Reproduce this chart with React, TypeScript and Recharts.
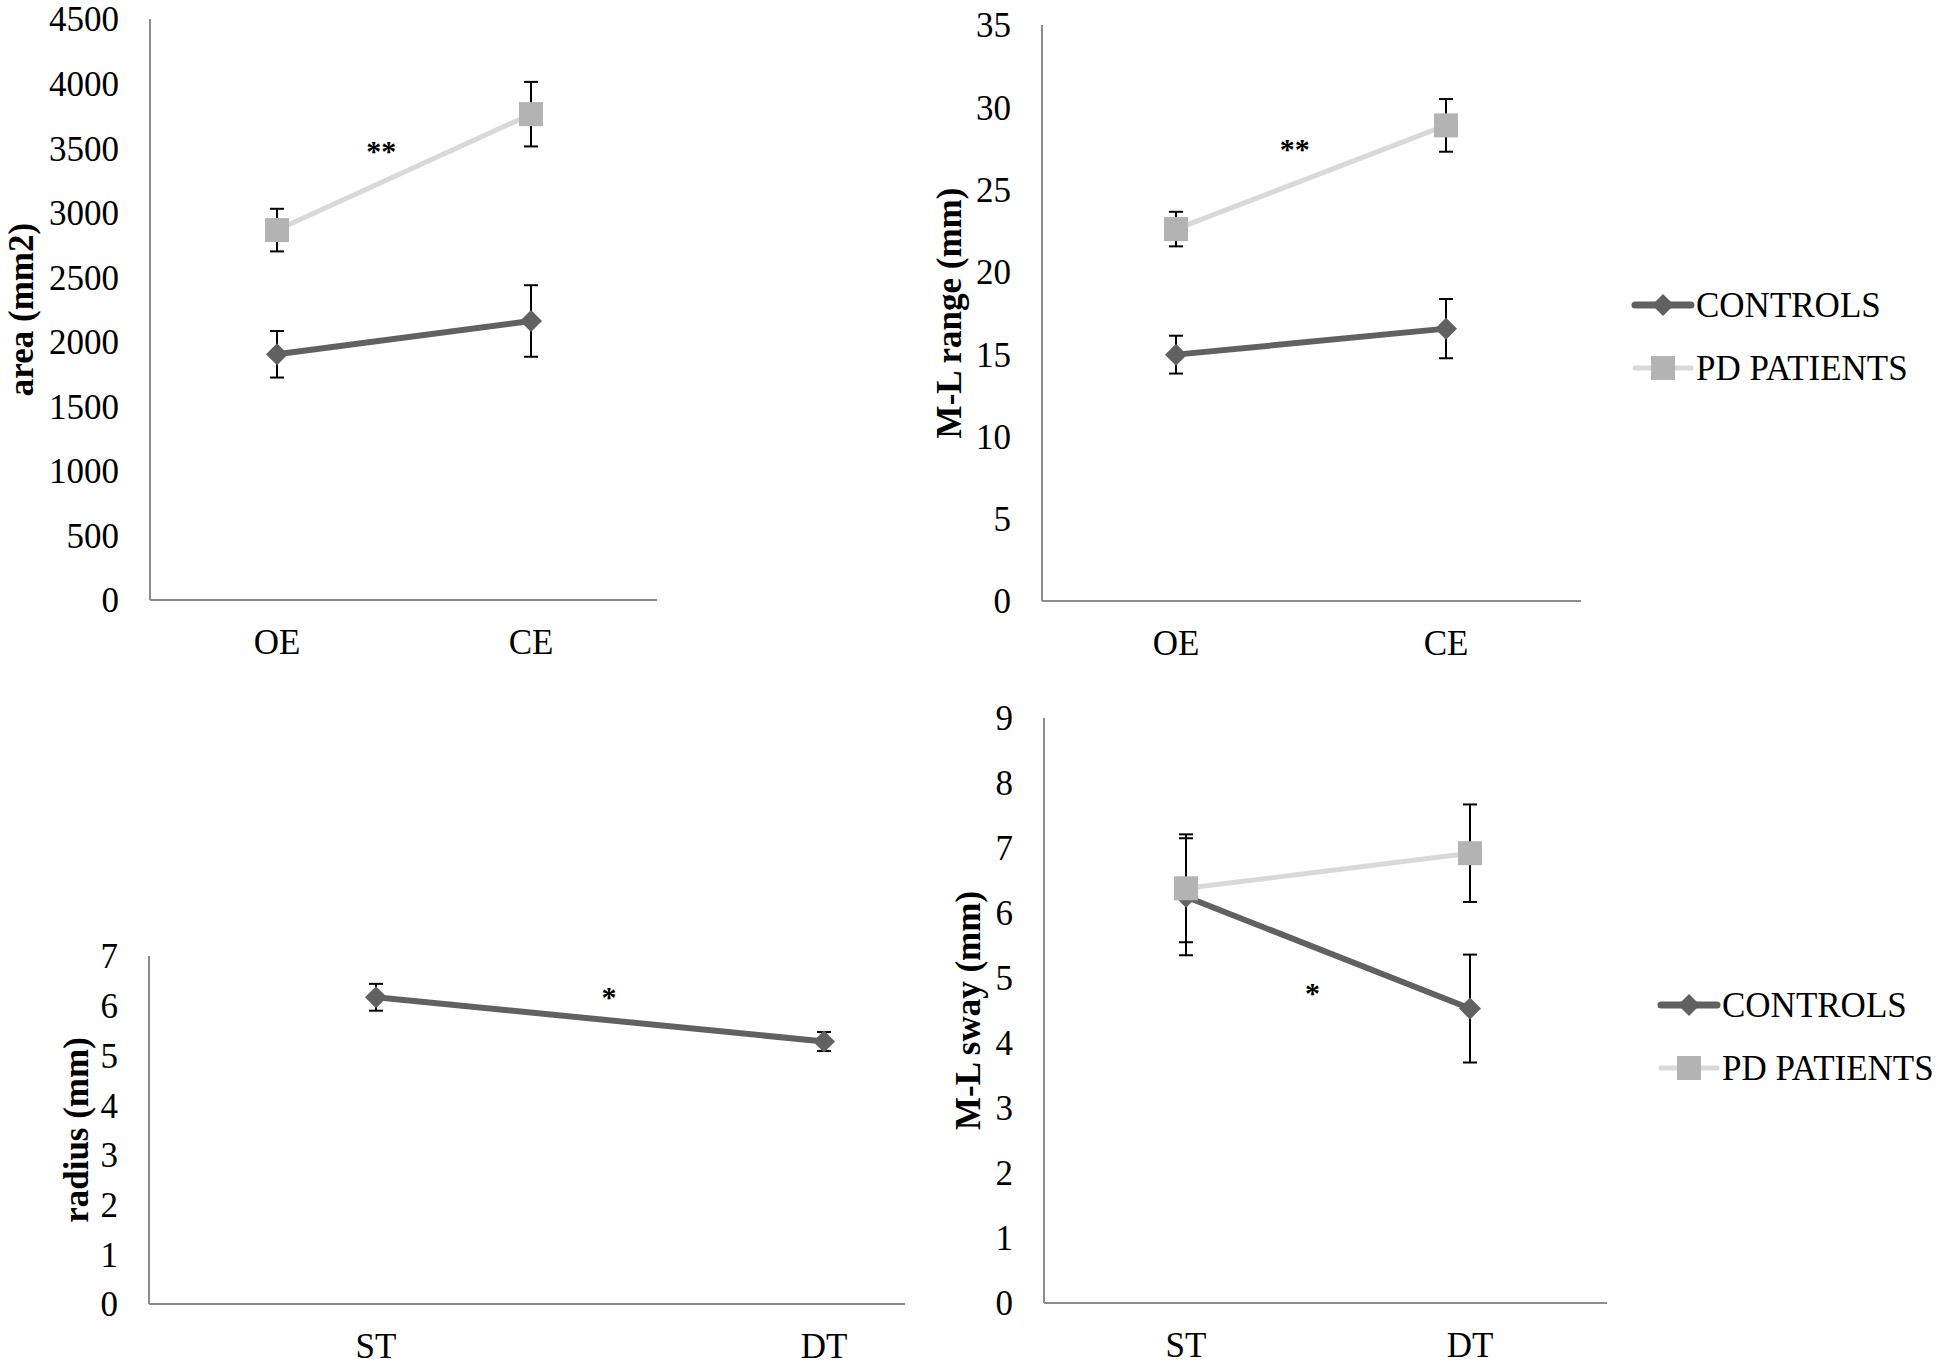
import { LineChart, Line, XAxis, YAxis, ErrorBar, ReferenceDot } from "recharts"

const FONT = '"Liberation Serif", "Times New Roman", serif'
const DARK = "#616161"
const LIGHT_LINE = "#d9d9d9"
const LIGHT_MARK = "#b3b3b3"
const AXIS = "#8c8c8c"

const eyeConditions = ["OE", "CE"]
const taskConditions = ["ST", "DT"]
const seriesNames = ["CONTROLS", "PD PATIENTS"]

// sway area (mm2)
const areaControls = [1903, 2161]
const areaControlsErr = [180, 277]
const areaPatients = [2865, 3763]
const areaPatientsErr = [165, 250]

// M-L range (mm)
const rangeControls = [14.97, 16.55]
const rangeControlsErr = [1.15, 1.8]
const rangePatients = [22.6, 28.9]
const rangePatientsErr = [1.05, 1.6]

// radius (mm), controls only
const radiusControls = [6.17, 5.28]
const radiusControlsErr = [0.27, 0.19]

// M-L sway (mm)
const swayControls = [6.25, 4.53]
const swayControlsErr = [0.9, 0.83]
const swayPatients = [6.38, 6.92]
const swayPatientsErr = [0.83, 0.75]

const areaTicks = [0, 500, 1000, 1500, 2000, 2500, 3000, 3500, 4000, 4500]
const rangeTicks = [0, 5, 10, 15, 20, 25, 30, 35]
const radiusTicks = [0, 1, 2, 3, 4, 5, 6, 7]
const swayTicks = [0, 1, 2, 3, 4, 5, 6, 7, 8, 9]

function rows(ctrl: number[], ctrlErr: number[], pd?: number[], pdErr?: number[]) {
  return ctrl.map((v, i) => ({
    x: i,
    ctrl: v,
    ctrlErr: ctrlErr[i],
    pd: pd ? pd[i] : null,
    pdErr: pdErr ? pdErr[i] : null,
  }))
}

const Diamond = (p: any) => {
  const { cx, cy } = p
  if (cx == null || cy == null) return null
  const h = 11
  return <path d={`M${cx},${cy - h}L${cx + h},${cy}L${cx},${cy + h}L${cx - h},${cy}Z`} fill={DARK} />
}

const Square = (p: any) => {
  const { cx, cy } = p
  if (cx == null || cy == null) return null
  return <rect x={cx - 12} y={cy - 12} width={24} height={24} fill={LIGHT_MARK} />
}

interface PanelProps {
  left: number
  top: number
  width: number
  height: number
  margin: { top: number; right: number; bottom: number; left: number }
  yWidth: number
  xHeight: number
  pad: { left: number; right: number }
  cats: string[]
  ticks: number[]
  label: string
  labelX: number
  data: any[]
  withPatients: boolean
  mark: { x: number; y: number; text: string }
}

function Panel(props: PanelProps) {
  const { left, top, width, height, margin, yWidth, xHeight, pad, cats, ticks, label, labelX, data, withPatients, mark } = props
  const tickStyle = { fontSize: 35, fill: "#000", fontFamily: FONT }
  return (
    <div style={{ position: "absolute", left, top }}>
      <LineChart width={width} height={height} data={data} margin={margin}>
        <XAxis
          type="number"
          dataKey="x"
          domain={[0, 1]}
          ticks={[0, 1]}
          interval={0}
          tickFormatter={(v: number) => cats[v]}
          padding={pad}
          height={xHeight}
          axisLine={{ stroke: AXIS, strokeWidth: 2 }}
          tickLine={false}
          tickSize={0}
          tickMargin={29}
          tick={tickStyle}
        />
        <YAxis
          domain={[0, ticks[ticks.length - 1]]}
          ticks={ticks}
          interval={0}
          width={yWidth}
          axisLine={{ stroke: AXIS, strokeWidth: 2 }}
          tickLine={false}
          tickSize={0}
          tickMargin={31}
          tick={tickStyle}
          label={(lp: any) => {
            const vb = lp.viewBox
            const cy = vb.y + vb.height / 2
            return (
              <text
                x={labelX}
                y={cy}
                transform={`rotate(-90, ${labelX}, ${cy})`}
                textAnchor="middle"
                dominantBaseline="central"
                fontFamily={FONT}
                fontWeight="bold"
                fontSize={35}
                fill="#000"
              >
                {label}
              </text>
            )
          }}
        />
        <Line
          dataKey="ctrl"
          type="linear"
          stroke={DARK}
          strokeWidth={6}
          dot={Diamond}
          activeDot={false}
          isAnimationActive={false}
        >
          <ErrorBar dataKey="ctrlErr" direction="y" width={7} stroke="#000" strokeWidth={2} />
        </Line>
        {withPatients && (
          <Line
            dataKey="pd"
            type="linear"
            stroke={LIGHT_LINE}
            strokeWidth={5}
            dot={Square}
            activeDot={false}
            isAnimationActive={false}
          >
            <ErrorBar dataKey="pdErr" direction="y" width={7} stroke="#000" strokeWidth={2} />
          </Line>
        )}
        <ReferenceDot
          x={mark.x}
          y={mark.y}
          r={0}
          shape={(p: any) => (
            <text x={p.cx} y={p.cy + 17} textAnchor="middle" fontFamily={FONT} fontWeight="bold" fontSize={30} fill="#000">
              {mark.text}
            </text>
          )}
        />
      </LineChart>
    </div>
  )
}

function LegendBlock({ left, top }: { left: number; top: number }) {
  return (
    <div style={{ position: "absolute", left, top }}>
      <svg width={300} height={100}>
        <line x1={4} y1={18} x2={60} y2={18} stroke={DARK} strokeWidth={7} strokeLinecap="round" />
        <Diamond cx={32} cy={18} />
        <text x={65} y={18} dy="0.35em" fontFamily={FONT} fontSize={35} fill="#000">
          {seriesNames[0]}
        </text>
        <line x1={4} y1={81} x2={60} y2={81} stroke={LIGHT_LINE} strokeWidth={5} strokeLinecap="round" />
        <Square cx={32} cy={81} />
        <text x={65} y={81} dy="0.35em" fontFamily={FONT} fontSize={35} fill="#000">
          {seriesNames[1]}
        </text>
      </svg>
    </div>
  )
}

export default function App() {
  return (
    <div style={{ position: "absolute", left: 0, top: 0, width: 1950, height: 1365, background: "#fff", overflow: "hidden" }}>
      <Panel
        left={0}
        top={0}
        width={700}
        height={690}
        margin={{ top: 19, right: 43, bottom: 20, left: 50 }}
        yWidth={100}
        xHeight={70}
        pad={{ left: 127, right: 126 }}
        cats={eyeConditions}
        ticks={areaTicks}
        label="area (mm2)"
        labelX={21}
        data={rows(areaControls, areaControlsErr, areaPatients, areaPatientsErr)}
        withPatients
        mark={{ x: 0.41, y: 3529, text: "**" }}
      />
      <Panel
        left={900}
        top={0}
        width={720}
        height={690}
        margin={{ top: 25, right: 39, bottom: 19, left: 42 }}
        yWidth={100}
        xHeight={70}
        pad={{ left: 134, right: 135 }}
        cats={eyeConditions}
        ticks={rangeTicks}
        label="M-L range (mm)"
        labelX={49}
        data={rows(rangeControls, rangeControlsErr, rangePatients, rangePatientsErr)}
        withPatients
        mark={{ x: 0.44, y: 27.9, text: "**" }}
      />
      <Panel
        left={0}
        top={690}
        width={950}
        height={675}
        margin={{ top: 266, right: 45, bottom: 11, left: 49 }}
        yWidth={100}
        xHeight={50}
        pad={{ left: 227, right: 81 }}
        cats={taskConditions}
        ticks={radiusTicks}
        label="radius (mm)"
        labelX={76}
        data={rows(radiusControls, radiusControlsErr)}
        withPatients={false}
        mark={{ x: 0.52, y: 6.32, text: "*" }}
      />
      <Panel
        left={950}
        top={690}
        width={700}
        height={675}
        margin={{ top: 28, right: 43, bottom: 12, left: 4 }}
        yWidth={90}
        xHeight={50}
        pad={{ left: 142, right: 137 }}
        cats={taskConditions}
        ticks={swayTicks}
        label="M-L sway (mm)"
        labelX={18}
        data={rows(swayControls, swayControlsErr, swayPatients, swayPatientsErr)}
        withPatients
        mark={{ x: 0.445, y: 4.88, text: "*" }}
      />
      <LegendBlock left={1631} top={287} />
      <LegendBlock left={1657} top={987} />
    </div>
  )
}
